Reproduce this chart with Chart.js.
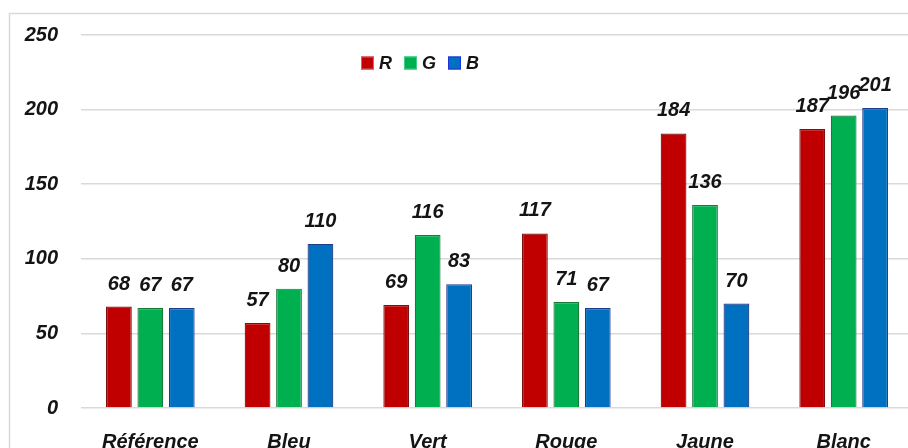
<!DOCTYPE html>
<html>
<head>
<meta charset="utf-8">
<script src="https://cdn.jsdelivr.net/npm/chart.js@4/dist/chart.umd.min.js"></script>
<style>
  html, body { margin: 0; padding: 0; background: #fff; overflow: hidden; }
  #wrap { width: 930px; height: 470px; }
</style>
</head>
<body>
<div id="wrap"><canvas id="rgbChart" width="930" height="470"></canvas></div>
<script>
// valeurs moyennes R, G, B par échantillon
const categories = ['Référence', 'Bleu', 'Vert', 'Rouge', 'Jaune', 'Blanc'];
const valuesR = [68, 57, 69, 117, 184, 187];
const valuesG = [67, 80, 116, 71, 136, 196];
const valuesB = [67, 110, 83, 67, 70, 201];
const yTicks = [0, 50, 100, 150, 200, 250];

const FONT = '"Liberation Sans", Arial, sans-serif';
const TEXT = '#141414';

// cadre gris autour de la zone du graphique
const frame = {
  id: 'frame',
  beforeDraw(chart) {
    const ctx = chart.ctx;
    ctx.save();
    ctx.fillStyle = '#fff';
    ctx.fillRect(0, 0, chart.width, chart.height);
    ctx.strokeStyle = '#d9d9d9';
    ctx.lineWidth = 1.5;
    ctx.strokeRect(9.5, 13.5, chart.width + 20, chart.height + 20);
    ctx.restore();
  }
};

// étiquettes de valeur au-dessus des barres
const valueLabels = {
  id: 'valueLabels',
  afterDatasetsDraw(chart) {
    const ctx = chart.ctx;
    ctx.save();
    ctx.font = 'italic bold 20px ' + FONT;
    ctx.fillStyle = TEXT;
    ctx.textAlign = 'center';
    ctx.textBaseline = 'alphabetic';
    chart.data.datasets.forEach((ds, i) => {
      chart.getDatasetMeta(i).data.forEach((bar, j) => {
        ctx.fillText(String(ds.data[j]), bar.x, bar.y - 17);
      });
    });
    ctx.restore();
  }
};

// légende R G B placée dans la zone de tracé
const innerLegend = {
  id: 'innerLegend',
  afterDraw(chart) {
    const ctx = chart.ctx;
    ctx.save();
    ctx.font = 'italic bold 18px ' + FONT;
    ctx.textBaseline = 'middle';
    let x = 361;
    const y = 63;
    chart.data.datasets.forEach(ds => {
      ctx.fillStyle = ds.backgroundColor;
      ctx.fillRect(x, y - 6.5, 13, 13);
      ctx.strokeStyle = ds.legendBorder;
      ctx.lineWidth = 1;
      ctx.strokeRect(x + 0.5, y - 6, 12, 12);
      ctx.fillStyle = TEXT;
      ctx.fillText(ds.label, x + 18, y + 1);
      x += 18 + ctx.measureText(ds.label).width + 12;
    });
    ctx.restore();
  }
};

const datasets = [
  { label: 'R', data: valuesR, backgroundColor: '#c00000', borderColor: '#7a1010', legendBorder: '#e06060' },
  { label: 'G', data: valuesG, backgroundColor: '#00b050', borderColor: '#1a7a3a', legendBorder: '#40d080' },
  { label: 'B', data: valuesB, backgroundColor: '#0070c0', borderColor: '#1f3b8a', legendBorder: '#2030e0' }
].map(ds => Object.assign(ds, {
  borderWidth: 1.2,
  categoryPercentage: 0.68,
  barPercentage: 0.82
}));

new Chart(document.getElementById('rgbChart'), {
  type: 'bar',
  data: { labels: categories, datasets: datasets },
  options: {
    responsive: false,
    animation: false,
    layout: { padding: { top: 34, right: 17, left: 0, bottom: 0 } },
    plugins: { legend: { display: false }, tooltip: { enabled: false } },
    scales: {
      x: {
        grid: { display: false },
        border: { display: false },
        ticks: { color: TEXT, font: { family: FONT, size: 20, style: 'italic', weight: 'bold' }, padding: 14 },
        afterFit(scale) { scale.height = 62; }
      },
      y: {
        min: 0,
        max: 250,
        afterBuildTicks(scale) { scale.ticks = yTicks.map(v => ({ value: v })); },
        grid: { color: '#d9d9d9', lineWidth: 1.5, drawTicks: false },
        border: { display: false },
        ticks: { color: TEXT, font: { family: FONT, size: 20, style: 'italic', weight: 'bold' }, padding: 23 },
        afterFit(scale) { scale.width = 81; }
      }
    }
  },
  plugins: [frame, valueLabels, innerLegend]
});
</script>
</body>
</html>
